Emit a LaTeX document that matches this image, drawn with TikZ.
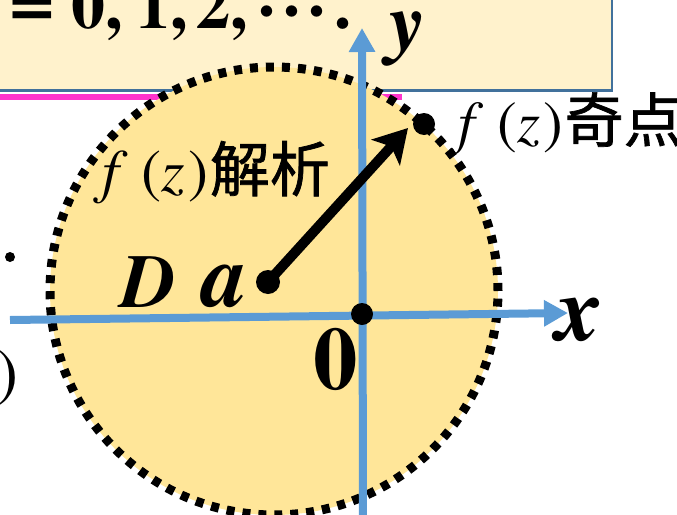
\documentclass[tikz,border=0pt]{standalone}
\usepackage{fontspec}
\setmainfont{texgyretermes}[Extension=.otf, UprightFont=*-regular, BoldFont=*-bold, ItalicFont=*-italic, BoldItalicFont=*-bolditalic]
\newfontfamily\cjk{Noto Sans CJK SC}[FakeBold=1.2]
\usetikzlibrary{arrows.meta}
\definecolor{boxfill}{HTML}{FFF2CC}
\definecolor{boxline}{HTML}{41719C}
\definecolor{magline}{HTML}{FF33CC}
\definecolor{discfill}{HTML}{FFE699}
\definecolor{axisblue}{HTML}{5B9BD5}
\newcommand\fzlabel{\textit{f}\kern0.24em(\textit{z}\kern0.05em)}
\newcommand\fsz[1]{\fontsize{#1}{#1}\selectfont}
\begin{document}
\begin{tikzpicture}[x=1pt,y=-1pt,
  lbl/.style={inner sep=0pt, outer sep=0pt, anchor=base west},
  axisline/.style={draw=axisblue, line width=8pt, -{Triangle[length=24pt,width=25pt]}},
  blackdot/.style={circle, fill=black, inner sep=0pt, minimum size=#1},
  disc/.style={circle, inner sep=0pt, minimum size=448pt},
]
\useasboundingbox (0,0) rectangle (677,514);
\clip (0,0) rectangle (677,514);
% top box
\draw[boxline, fill=boxfill, line width=2.5pt] (-20,-20) rectangle (612,90.7);
\node[lbl] (eq) at (9.5,28) {\bfseries\fsz{80}=};
\node[lbl] (n0) at (71.4,28) {\bfseries\fsz{68}0,};
\node[lbl] (n1) at (136,28) {\bfseries\fsz{68}1,};
\node[lbl] (n2) at (196,28) {\bfseries\fsz{68}2,};
\node[lbl] (dots) at (258.5,28) {\bfseries\fsz{68}·\kern8pt·\kern8pt·\kern9pt.};
% magenta line
\draw[magline, line width=6pt] (0,97) -- (402,97);
% disc
\node[disc, fill=discfill] (D) at (274,291) {};
\node[disc, draw=black, line width=9pt, dash pattern=on 8pt off 8pt] (Dborder) at (274,291) {};
% axes
\coordinate (xs) at (10,320);
\coordinate (xe) at (568,313);
\coordinate (ys) at (363,520);
\coordinate (ye) at (362,28);
\draw[axisline] (xs) -- (xe);
\draw[axisline] (ys) -- (ye);
% arrow
\node[blackdot=24pt] (a) at (268,282) {};
\node[blackdot=22pt] (s) at (424,124) {};
\node[blackdot=22pt] (o) at (362,314) {};
\coordinate (tip) at (408,128);
\draw[line width=10pt, -{Stealth[length=33pt,width=38pt,inset=8pt]}] (a.center) -- (tip);
% left fragments
\node[blackdot=10pt] (ld) at (10,257) {};
\node[lbl] (lp) at (-3.8,394.6) {\fsz{66})};
% labels
\node[lbl] (ylab) at (389,49) {\bfseries\itshape\fsz{82}y};
\node[lbl] (xlab) at (556.8,340) {\bfseries\itshape\fsz{92}x};
\node[lbl] (olab) at (313,389) {\bfseries\fsz{89}0};
\node[lbl] (Dlab) at (121.5,307) {\bfseries\itshape\fsz{76}D};
\node[lbl] (alab) at (202.6,306) {\bfseries\itshape\fsz{90}a};
\node[lbl] (ana) at (102,191.5) {\fsz{60}\fzlabel\kern0.03em{\cjk 解析}};
\node[lbl] (sing) at (458.5,142) {\fsz{59}\fzlabel\kern0.03em{\cjk 奇点}};
\end{tikzpicture}
\end{document}
